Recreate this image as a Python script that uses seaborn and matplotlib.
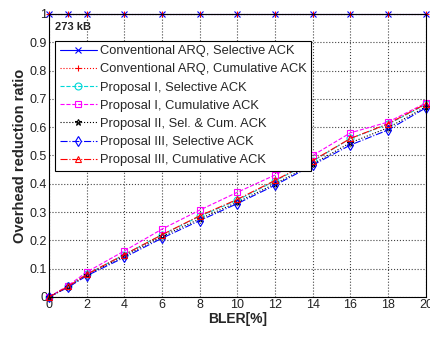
import matplotlib
matplotlib.use('Agg')
import matplotlib.pyplot as plt
import seaborn as sns
import numpy as np

# x values (BLER in %)
bler = [0, 1, 2, 4, 6, 8, 10, 12, 14, 16, 18, 20]

# overhead reduction ratio for each scheme
conv_sel = [1, 1, 1, 1, 1, 1, 1, 1, 1, 1, 1, 1]
conv_cum = [1, 1, 1, 1, 1, 1, 1, 1, 1, 1, 1, 1]
prop1_sel = [0, 0.037, 0.080, 0.150, 0.220, 0.285, 0.342, 0.410, 0.480, 0.560, 0.610, 0.680]
prop1_cum = [0, 0.040, 0.088, 0.163, 0.240, 0.307, 0.370, 0.431, 0.500, 0.580, 0.618, 0.685]
prop2 = [0, 0.035, 0.077, 0.145, 0.214, 0.276, 0.335, 0.400, 0.470, 0.545, 0.598, 0.672]
prop3_sel = [0, 0.034, 0.075, 0.140, 0.208, 0.270, 0.330, 0.395, 0.466, 0.537, 0.590, 0.668]
prop3_cum = [0, 0.037, 0.080, 0.150, 0.220, 0.287, 0.345, 0.412, 0.482, 0.560, 0.612, 0.682]

labels = ['Conventional ARQ, Selective ACK',
          'Conventional ARQ, Cumulative ACK',
          'Proposal I, Selective ACK',
          'Proposal I, Cumulative ACK',
          'Proposal II, Sel. & Cum. ACK',
          'Proposal III, Selective ACK',
          'Proposal III, Cumulative ACK']

series = [conv_sel, conv_cum, prop1_sel, prop1_cum, prop2, prop3_sel, prop3_cum]

# matlab-ish styles: color, marker, linestyle
styles = [('#0000ff', 'x', '-'),
          ('#ff0000', '+', ':'),
          ('#00d8d8', 'o', '--'),
          ('#ff00ff', 's', '--'),
          ('#000000', '*', ':'),
          ('#0000ff', 'd', '-.'),
          ('#ff0000', '^', '-.')]

sns.set_style('white')
plt.rcParams['font.family'] = ['Liberation Sans', 'DejaVu Sans']

fig = plt.figure(figsize=(4.31, 3.39), dpi=100)
ax = fig.add_axes([0.114, 0.124, 0.874, 0.835])

for vals, lab, (col, mk, ls) in zip(series, labels, styles):
    sns.lineplot(x=bler, y=vals, ax=ax, color=col, marker=mk, linestyle=ls,
                 linewidth=0.8, markersize=5, markerfacecolor='none',
                 markeredgecolor=col, markeredgewidth=0.8, label=lab,
                 clip_on=False)

ax.set_xlim(0, 20)
ax.set_ylim(0, 1)
ax.set_xticks(range(0, 21, 2))
ax.set_yticks(np.arange(0, 1.01, 0.1))
ax.set_yticklabels(['0', '0.1', '0.2', '0.3', '0.4', '0.5', '0.6', '0.7', '0.8', '0.9', '1'])
ax.tick_params(direction='in', length=3, labelsize=9, colors='#222222', pad=1.5)
ax.grid(True, linestyle=':', color='#444444', linewidth=0.8)
for sp in ax.spines.values():
    sp.set_color('black')
    sp.set_linewidth(0.8)

ax.set_xlabel('BLER[%]', fontsize=10, fontweight='bold', labelpad=1)
ax.set_ylabel('Overhead reduction ratio', fontsize=10.5, fontweight='bold', labelpad=2)

ax.text(0.3, 0.954, '273 kB', fontsize=8, fontweight='bold', va='center')

leg = ax.legend(loc='upper left', bbox_to_anchor=(0.016, 0.905), fontsize=9.25,
                frameon=True, fancybox=False, borderpad=0.35, labelspacing=0.48,
                handlelength=2.9, handletextpad=0.25, borderaxespad=0)
leg.get_frame().set_edgecolor('black')
leg.get_frame().set_linewidth(0.8)
leg.get_frame().set_alpha(1)

fig.savefig('out.png', dpi=100)
